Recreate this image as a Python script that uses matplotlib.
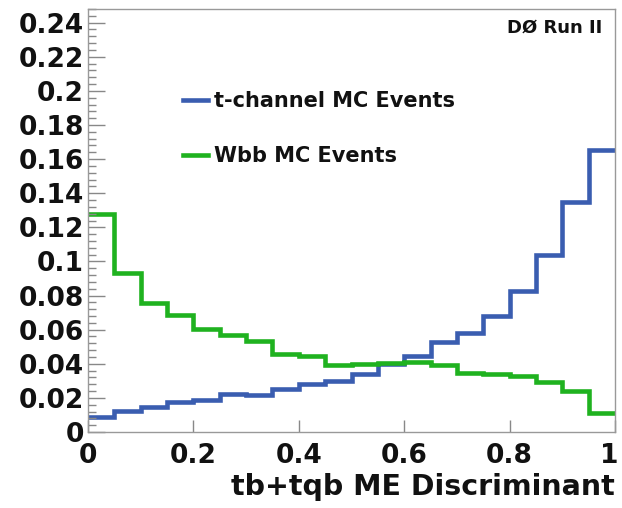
import matplotlib
matplotlib.use("Agg")
import matplotlib.pyplot as plt
import matplotlib.transforms as mtransforms
import numpy as np
from matplotlib.ticker import MultipleLocator, FuncFormatter

# 20 equal-width bins of the discriminant, normalised to unit area
bin_edges = np.linspace(0.0, 1.0, 21)

tchannel = [0.009, 0.0125, 0.0145, 0.0177, 0.019, 0.022, 0.0218, 0.025, 0.028, 0.030,
            0.034, 0.040, 0.0446, 0.053, 0.058, 0.068, 0.0826, 0.104, 0.135, 0.1655]
wbb = [0.128, 0.0935, 0.0758, 0.0684, 0.0606, 0.0567, 0.0534, 0.0456, 0.0445, 0.039,
       0.040, 0.0407, 0.041, 0.039, 0.0343, 0.034, 0.033, 0.0294, 0.0242, 0.011]

labels = ["t-channel MC Events", "Wbb MC Events"]
colors = ["#3a5db0", "#1fb21f"]

fig = plt.figure(figsize=(6.22, 5.08), dpi=100)
ax = fig.add_axes([88 / 622, 76 / 508, 527 / 622, 423 / 508])

ax.stairs(tchannel, bin_edges, baseline=None, color=colors[0], lw=3.3, label=labels[0])
ax.stairs(wbb, bin_edges, baseline=None, color=colors[1], lw=3.3, label=labels[1])

ax.set_xlim(0, 1)
ax.set_ylim(0, 0.248)

ax.xaxis.set_major_locator(MultipleLocator(0.2))
ax.yaxis.set_major_locator(MultipleLocator(0.02))
ax.yaxis.set_minor_locator(MultipleLocator(0.004))
fmt = FuncFormatter(lambda v, pos: f"{v:g}")
ax.xaxis.set_major_formatter(fmt)
ax.yaxis.set_major_formatter(fmt)

tick_font = {"family": "DejaVu Sans", "weight": "bold", "size": 19}
ax.tick_params(axis="both", which="both", direction="in", color="#888888")
ax.tick_params(axis="y", which="major", length=12, width=1, pad=3)
ax.tick_params(axis="y", which="minor", length=6, width=1)
ax.tick_params(axis="x", which="major", length=9, width=1, pad=8)
fig.canvas.draw()
for lab in ax.get_xticklabels() + ax.get_yticklabels():
    lab.set_fontproperties(tick_font)
    lab.set_color("#111111")

# keep the "1" at the right end inside the canvas
for tick in ax.xaxis.get_major_ticks():
    if abs(tick.get_loc() - 1.0) < 1e-9:
        tick.label1.set_horizontalalignment("right")
        tick.label1.set_transform(tick.label1.get_transform()
                                  + mtransforms.ScaledTranslation(3 / 100, 0, fig.dpi_scale_trans))

for sp in ax.spines.values():
    sp.set_color("#999999")
    sp.set_linewidth(1.0)

ax.set_xlabel("tb+tqb ME Discriminant", loc="right", fontfamily="DejaVu Sans",
              fontweight="bold", fontsize=20.5, color="#111111", labelpad=3)

ax.text(0.975, 0.955, "DØ Run II", transform=ax.transAxes, ha="right", va="center",
        fontfamily="DejaVu Sans", fontweight="bold", fontsize=13, color="#111111")

leg = ax.legend(loc="upper left", bbox_to_anchor=(183 / 622, 1 - 91 / 508),
                bbox_transform=fig.transFigure, frameon=False, borderpad=0,
                borderaxespad=0, handlelength=1.2, handletextpad=0.3,
                labelspacing=1.68, prop={"family": "DejaVu Sans", "weight": "bold", "size": 15})
for t in leg.get_texts():
    t.set_color("#111111")

fig.savefig("out.png", dpi=100)
